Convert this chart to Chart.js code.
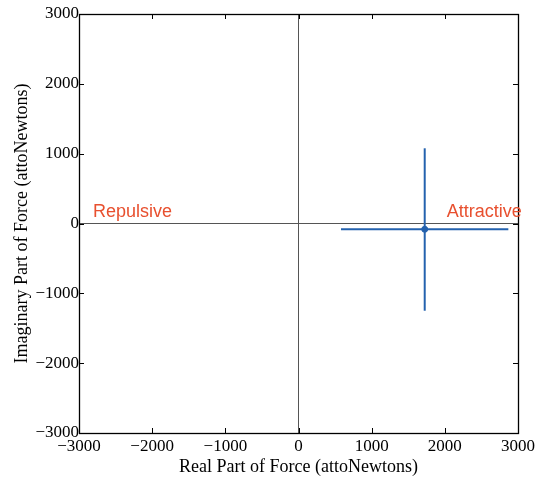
<!DOCTYPE html>
<html>
<head>
<meta charset="utf-8">
<script src="https://cdn.jsdelivr.net/npm/chart.js@4"></script>
<style>
  html, body { margin: 0; padding: 0; background: #fff; }
  #wrap { width: 544px; height: 477px; }
</style>
</head>
<body>
<div id="wrap"><canvas id="forceChart" width="544" height="477"></canvas></div>
<script>
// measured force (attoNewtons) with error bars
const pointX = [1725];
const pointY = [-83];
const xErrLow = [581];
const xErrHigh = [2868];
const yErrLow = [-1249];
const yErrHigh = [1077];

const xTicks = [-3000, -2000, -1000, 0, 1000, 2000, 3000];
const yTicks = [-3000, -2000, -1000, 0, 1000, 2000, 3000];

// region labels: [text, x, y]
const regionLabels = [
    ['Repulsive', -2810, 93],
    ['Attractive', 2025, 93]
];

const blue = '#2462ae';
const serif = "'Liberation Serif', 'DejaVu Serif', serif";

function fmtTick(v) {
    return v < 0 ? '\u2212' + Math.abs(v) : String(v);
}

// inward ticks on all four sides, frame and region labels
const boxPlugin = {
    id: 'boxPlugin',
    afterDraw(chart) {
        const { ctx, chartArea: a, scales } = chart;
        const xs = scales.x, ys = scales.y;
        const len = 5;
        ctx.save();
        ctx.strokeStyle = '#000';
        ctx.lineWidth = 1;
        ctx.beginPath();
        xTicks.forEach(v => {
            const px = Math.round(xs.getPixelForValue(v)) + 0.5;
            ctx.moveTo(px, a.bottom); ctx.lineTo(px, a.bottom - len);
            ctx.moveTo(px, a.top); ctx.lineTo(px, a.top + len);
        });
        yTicks.forEach(v => {
            const py = Math.round(ys.getPixelForValue(v)) + 0.5;
            ctx.moveTo(a.left, py); ctx.lineTo(a.left + len, py);
            ctx.moveTo(a.right, py); ctx.lineTo(a.right - len, py);
        });
        ctx.stroke();
        ctx.lineWidth = 1.3;
        ctx.strokeRect(Math.round(a.left) + 0.5, Math.round(a.top) + 0.5,
                       Math.round(a.right - a.left), Math.round(a.bottom - a.top));

        ctx.fillStyle = '#e8502f';
        ctx.font = "18px 'Liberation Sans', Arial, sans-serif";
        ctx.textBaseline = 'alphabetic';
        ctx.textAlign = 'left';
        regionLabels.forEach(([t, x, y]) => {
            ctx.fillText(t, xs.getPixelForValue(x), ys.getPixelForValue(y));
        });
        ctx.restore();
    }
};

const ctx = document.getElementById('forceChart');
new Chart(ctx, {
    type: 'scatter',
    data: {
        datasets: [
            {
                label: 'x error',
                data: [{ x: xErrLow[0], y: pointY[0] }, { x: xErrHigh[0], y: pointY[0] }],
                showLine: true,
                borderColor: blue,
                borderWidth: 2,
                pointRadius: 0
            },
            {
                label: 'y error',
                data: [{ x: pointX[0], y: yErrLow[0] }, { x: pointX[0], y: yErrHigh[0] }],
                showLine: true,
                borderColor: blue,
                borderWidth: 2,
                pointRadius: 0
            },
            {
                label: 'force',
                data: pointX.map((x, i) => ({ x, y: pointY[i] })),
                backgroundColor: blue,
                borderColor: blue,
                pointRadius: 3
            }
        ]
    },
    options: {
        responsive: false,
        animation: false,
        layout: { padding: { top: 14, right: 26, left: 0, bottom: 0 } },
        plugins: { legend: { display: false }, tooltip: { enabled: false } },
        scales: {
            x: {
                type: 'linear',
                min: -3000, max: 3000,
                afterBuildTicks: s => { s.ticks = xTicks.map(v => ({ value: v })); },
                afterFit: s => { s.height = 44; },
                border: { display: false },
                grid: {
                    drawTicks: false,
                    color: c => c.tick && c.tick.value === 0 ? '#555' : 'rgba(0,0,0,0)',
                    lineWidth: 1
                },
                ticks: {
                    padding: 3,
                    color: '#000',
                    font: { family: serif, size: 17 },
                    callback: v => fmtTick(v)
                },
                title: {
                    display: true,
                    text: 'Real Part of Force (attoNewtons)',
                    color: '#000',
                    font: { family: serif, size: 18 },
                    padding: { top: 0, bottom: -1 }
                }
            },
            y: {
                type: 'linear',
                min: -3000, max: 3000,
                afterBuildTicks: s => { s.ticks = yTicks.map(v => ({ value: v })); },
                afterFit: s => { s.width = 79; },
                border: { display: false },
                grid: {
                    drawTicks: false,
                    color: c => c.tick && c.tick.value === 0 ? '#555' : 'rgba(0,0,0,0)',
                    lineWidth: 1
                },
                ticks: {
                    padding: 0,
                    color: '#000',
                    font: { family: serif, size: 17 },
                    callback: v => fmtTick(v)
                },
                title: {
                    display: true,
                    text: 'Imaginary Part of Force (attoNewtons)',
                    color: '#000',
                    font: { family: serif, size: 18 },
                    padding: { top: 11, bottom: 0 }
                }
            }
        }
    },
    plugins: [boxPlugin]
});
</script>
</body>
</html>
